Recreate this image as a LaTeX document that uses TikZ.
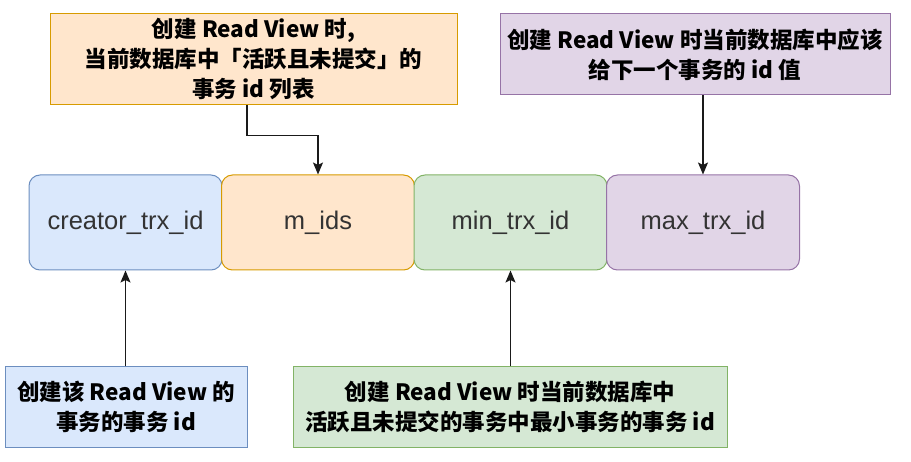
\documentclass[tikz,border=0pt]{standalone}
\usepackage{fontspec}
\setmainfont{Liberation Sans}
\newfontfamily\cjk{Noto Sans CJK SC}
\usetikzlibrary{arrows.meta}
\definecolor{cCrtF}{HTML}{DAE8FC}
\definecolor{cCrtD}{HTML}{6C8EBF}
\definecolor{cIdsF}{HTML}{FFE6CC}
\definecolor{cIdsD}{HTML}{D79B00}
\definecolor{cMinF}{HTML}{D5E8D4}
\definecolor{cMinD}{HTML}{82B366}
\definecolor{cMaxF}{HTML}{E1D5E7}
\definecolor{cMaxD}{HTML}{9673A6}
\definecolor{cLine}{HTML}{1A1A1A}
\tikzset{
  F/.style     = {draw, line width=1pt, rounded corners=11pt, text centered,
                  minimum width=193pt, minimum height=95pt, inner sep=0pt,
                  text=black!80, font=\fontsize{25.5}{30}\selectfont},
  crtF/.style  = {F, fill=cCrtF, draw=cCrtD},
  idsF/.style  = {F, fill=cIdsF, draw=cIdsD},
  minF/.style  = {F, fill=cMinF, draw=cMinD},
  maxF/.style  = {F, fill=cMaxF, draw=cMaxD},
  N/.style     = {draw, line width=1pt, align=center, inner sep=0pt,
                  font=\cjk\bfseries\fontsize{22.5}{30}\selectfont},
  A/.style     = {-{Stealth[length=12pt,width=10pt,inset=2.5pt]}, line width=1.4pt, cLine},
}
\begin{document}
\begin{tikzpicture}[x=1pt, y=-1pt]

%% Layout (px, y downwards):
%% fields y=222.5 ; notes above y~57 ; notes below y=407
\useasboundingbox (0,0) rectangle (911,462);

%% ─── Read View fields ────────────────────────────────────────────
\node[crtF] (crt) at (125.5,222.5) {creator\_trx\_id};
\node[idsF] (ids) at (318.0,222.5) {m\_ids};
\node[minF] (min) at (510.5,222.5) {min\_trx\_id};
\node[maxF] (max) at (703.0,222.5) {max\_trx\_id};

%% ─── notes above ─────────────────────────────────────────────────
\node[N, fill=cIdsF, draw=cIdsD, minimum width=407pt, minimum height=91pt]
  (nIds) at (253.5,59.5)
  {创建 Read View 时,\\当前数据库中「活跃且未提交」的\\事务 id 列表};
\node[N, fill=cMaxF, draw=cMaxD, minimum width=390pt, minimum height=81pt]
  (nMax) at (695.0,54.5)
  {创建 Read View 时当前数据库中应该\\给下一个事务的 id 值};

\draw[A] ([xshift=-6.5pt]nIds.south) -- ++(0,30) -| (ids.north);
\draw[A] (nMax.south -| max.north) -- (max.north);

%% ─── notes below ─────────────────────────────────────────────────
\node[N, fill=cCrtF, draw=cCrtD, minimum width=242pt, minimum height=80pt]
  (nCrt) at (126.0,407.0)
  {创建该 Read View 的\\事务的事务 id};
\node[N, fill=cMinF, draw=cMinD, minimum width=434pt, minimum height=80pt]
  (nMin) at (510.0,407.0)
  {创建 Read View 时当前数据库中\\活跃且未提交的事务中最小事务的事务 id};

\draw[A] (nCrt.north -| crt.south) -- (crt.south);
\draw[A] (nMin.north -| min.south) -- (min.south);

\end{tikzpicture}
\end{document}
